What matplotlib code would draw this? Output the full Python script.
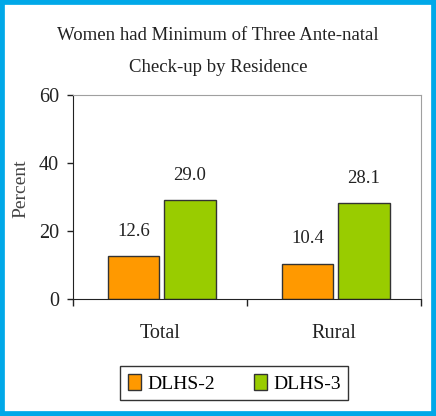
import numpy as np
import matplotlib.pyplot as plt
from matplotlib.patches import Rectangle

categories = ["Total", "Rural"]
dlhs2 = [12.6, 10.4]
dlhs3 = [29.0, 28.1]
series_names = ["DLHS-2", "DLHS-3"]
yticks = [0, 20, 40, 60]

plt.rcParams['font.family'] = ['Liberation Serif', 'DejaVu Serif']

fig = plt.figure(figsize=(4.36, 4.16), dpi=100)
# cyan frame round the picture
fig.patches.append(Rectangle((0, 0), 1, 1, transform=fig.transFigure,
                             facecolor='none', edgecolor='#00A8E8', linewidth=7, zorder=10))

ax = fig.add_axes([0.1674, 0.2812, 0.7982, 0.4904])
x = np.arange(len(categories))
w = 0.295
b1 = ax.bar(x - 0.152, dlhs2, w, color='#FF9900', edgecolor='#333333', linewidth=1, label=series_names[0])
b2 = ax.bar(x + 0.172, dlhs3, w, color='#99CC00', edgecolor='#333333', linewidth=1, label=series_names[1])

for bars, vals in ((b1, dlhs2), (b2, dlhs3)):
    for r, v in zip(bars, vals):
        ax.annotate(f"{v:.1f}", (r.get_x() + r.get_width() / 2, v), xytext=(0, 12),
                    textcoords='offset points', ha='center', va='bottom', fontsize=13.5, color='#222222')

ax.set_xlim(-0.5, 1.5)
ax.set_ylim(0, 60)
ax.set_yticks(yticks)
ax.tick_params(axis='y', labelsize=14.5, length=4, width=1, color='#222222', labelcolor='#222222', pad=6)
ax.set_xticks([-0.5, 0.5, 1.5])
ax.set_xticklabels([])
ax.tick_params(axis='x', length=5, width=1, color='#222222')
for i, c in enumerate(categories):
    ax.text(i, -0.17, c, transform=ax.get_xaxis_transform(), ha='center', va='center',
            fontsize=14.5, color='#222222')

for s in ('top', 'right'):
    ax.spines[s].set_color('#a0a0a0')
for s in ('left', 'bottom'):
    ax.spines[s].set_color('#222222')

ax.set_ylabel("Percent", fontsize=14, color='#444444')
ax.yaxis.set_label_coords(-0.125, 0.54)

fig.text(0.5, 0.915, "Women had Minimum of Three Ante-natal", ha='center', va='center', fontsize=13.5, color='#222222')
fig.text(0.5, 0.838, "Check-up by Residence", ha='center', va='center', fontsize=13.5, color='#222222')

leg = fig.legend(loc='center', bbox_to_anchor=(0.537, 0.079), ncol=2, frameon=True, fancybox=False,
                 edgecolor='black', fontsize=14, handlelength=0.7, handleheight=0.9,
                 handletextpad=0.3, columnspacing=2.0, borderpad=0.4)
leg.get_frame().set_linewidth(1)

fig.savefig("out.png", dpi=100, facecolor='white')
